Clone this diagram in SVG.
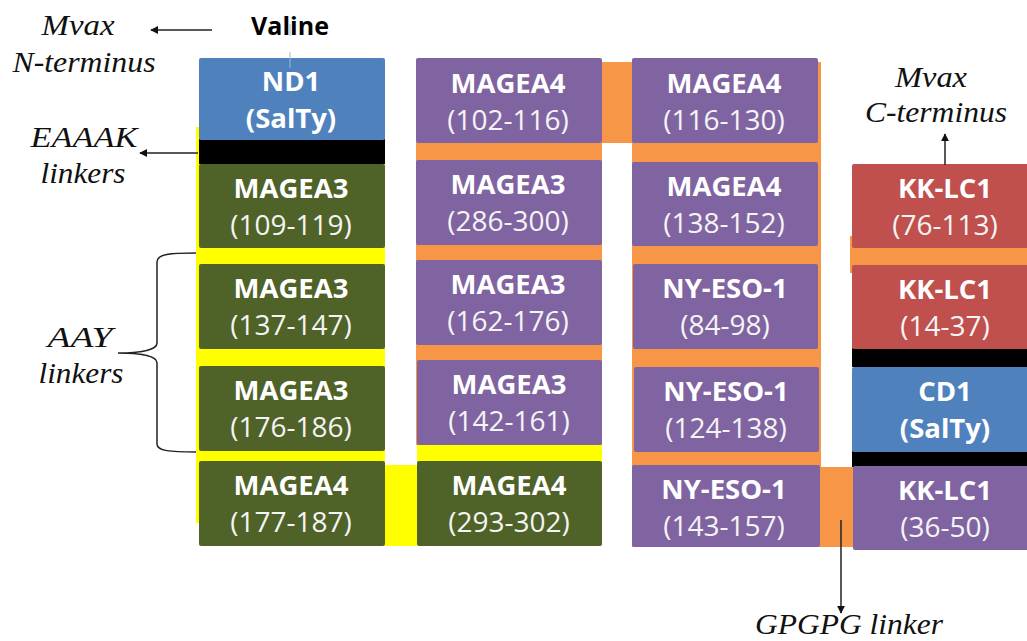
<svg xmlns="http://www.w3.org/2000/svg" width="1027" height="641" viewBox="0 0 1027 641">
<defs>
<style>
.nm{font-family:"Open Sans","Liberation Sans",sans-serif;font-weight:bold;font-size:27.5px;fill:#fff;text-anchor:middle}
.nr{font-family:"Open Sans","Liberation Sans",sans-serif;font-size:28px;fill:#f4f4f4;text-anchor:middle}
.it{font-family:"Liberation Serif",serif;font-style:italic;font-size:30px;fill:#111;text-anchor:middle}
.ln{stroke:#222;stroke-width:1.5;fill:none}
.blue{fill:#4f81bd}.green{fill:#4f6228}.purple{fill:#8064a2}.red{fill:#c0504d}
.org{fill:#f79646}.yel{fill:#ffff00}.blk{fill:#000}
</style>
<marker id="ah" viewBox="0 0 10 10" refX="9" refY="5" markerWidth="8" markerHeight="8" markerUnits="userSpaceOnUse" orient="auto">
<path d="M0,0 L10,5 L0,10 z" fill="#111"/>
</marker>
</defs>
<rect width="1027" height="641" fill="#fff"/>
<g id="linkers">
<rect class="yel" x="196" y="127" width="189" height="396"/>
<rect class="yel" x="385" y="465" width="32" height="81"/>
<rect class="yel" x="417" y="444" width="185" height="18"/>
<rect class="org" x="416" y="142" width="186" height="303"/>
<rect class="org" x="602" y="62" width="32" height="81"/>
<rect class="org" x="632" y="62" width="189" height="485"/>
<rect class="org" x="820" y="467" width="33" height="80"/>
<rect class="org" x="850" y="236" width="177" height="37"/>
<rect class="blk" x="199" y="139" width="186" height="25"/>
<rect class="blk" x="852" y="348" width="175" height="19"/>
<rect class="blk" x="852" y="451" width="175" height="16"/>
</g>
<g id="nd1"><rect class="blue" x="199" y="58" width="186" height="82" rx="2"/><text class="nm" x="291" y="91">ND1</text><text class="nm" x="291" y="128">(SalTy)</text></g>
<g id="magea3_109"><rect class="green" x="199" y="164" width="186" height="84" rx="2"/><text class="nm" x="291" y="198">MAGEA3</text><text class="nr" x="291" y="235">(109-119)</text></g>
<g id="magea3_137"><rect class="green" x="199" y="264" width="186" height="85" rx="2"/><text class="nm" x="291" y="298">MAGEA3</text><text class="nr" x="291" y="335">(137-147)</text></g>
<g id="magea3_176"><rect class="green" x="199" y="366" width="186" height="85" rx="2"/><text class="nm" x="291" y="400">MAGEA3</text><text class="nr" x="291" y="437">(176-186)</text></g>
<g id="magea4_177"><rect class="green" x="199" y="461" width="186" height="85" rx="2"/><text class="nm" x="291" y="495">MAGEA4</text><text class="nr" x="291" y="532">(177-187)</text></g>
<g id="magea4_102"><rect class="purple" x="416" y="58" width="186" height="85" rx="2"/><text class="nm" x="508" y="93">MAGEA4</text><text class="nr" x="508" y="130">(102-116)</text></g>
<g id="magea3_286"><rect class="purple" x="416" y="160" width="186" height="85" rx="2"/><text class="nm" x="508" y="194">MAGEA3</text><text class="nr" x="508" y="231">(286-300)</text></g>
<g id="magea3_162"><rect class="purple" x="416" y="260" width="186" height="85" rx="2"/><text class="nm" x="508" y="294">MAGEA3</text><text class="nr" x="508" y="331">(162-176)</text></g>
<g id="magea3_142"><rect class="purple" x="417" y="360" width="185" height="85" rx="2"/><text class="nm" x="509" y="394">MAGEA3</text><text class="nr" x="509" y="431">(142-161)</text></g>
<g id="magea4_293"><rect class="green" x="417" y="461" width="185" height="85" rx="2"/><text class="nm" x="509" y="495">MAGEA4</text><text class="nr" x="509" y="532">(293-302)</text></g>
<g id="magea4_116"><rect class="purple" x="632" y="58" width="186" height="85" rx="2"/><text class="nm" x="724" y="93">MAGEA4</text><text class="nr" x="724" y="130">(116-130)</text></g>
<g id="magea4_138"><rect class="purple" x="632" y="162" width="186" height="84" rx="2"/><text class="nm" x="724" y="196">MAGEA4</text><text class="nr" x="724" y="233">(138-152)</text></g>
<g id="nyeso_84"><rect class="purple" x="633" y="264" width="185" height="85" rx="2"/><text class="nm" x="725" y="298">NY-ESO-1</text><text class="nr" x="725" y="335">(84-98)</text></g>
<g id="nyeso_124"><rect class="purple" x="634" y="367" width="185" height="85" rx="2"/><text class="nm" x="726" y="401">NY-ESO-1</text><text class="nr" x="726" y="438">(124-138)</text></g>
<g id="nyeso_143"><rect class="purple" x="632" y="465" width="188" height="82" rx="2"/><text class="nm" x="724" y="499">NY-ESO-1</text><text class="nr" x="724" y="536">(143-157)</text></g>
<g id="kklc1_76"><rect class="red" x="852" y="164" width="180" height="84" rx="2"/><text class="nm" x="945" y="198">KK-LC1</text><text class="nr" x="945" y="235">(76-113)</text></g>
<g id="kklc1_14"><rect class="red" x="852" y="265" width="180" height="84" rx="2"/><text class="nm" x="945" y="299">KK-LC1</text><text class="nr" x="945" y="336">(14-37)</text></g>
<g id="cd1"><rect class="blue" x="852" y="367" width="180" height="85" rx="2"/><text class="nm" x="945" y="401">CD1</text><text class="nm" x="945" y="438">(SalTy)</text></g>
<g id="kklc1_36"><rect class="purple" x="853" y="466" width="180" height="84" rx="2"/><text class="nm" x="945" y="500">KK-LC1</text><text class="nr" x="945" y="537">(36-50)</text></g>
<g id="labels">
<text x="290" y="35" font-family="'Open Sans','Liberation Sans',sans-serif" font-weight="bold" font-size="25" fill="#000" text-anchor="middle">Valine</text>
<text class="it" x="78" y="35" textLength="73" lengthAdjust="spacingAndGlyphs">Mvax</text>
<text class="it" x="84" y="72" textLength="143" lengthAdjust="spacingAndGlyphs">N-terminus</text>
<text class="it" x="84" y="147" textLength="107" lengthAdjust="spacingAndGlyphs">EAAAK</text>
<text class="it" x="83" y="183" textLength="85" lengthAdjust="spacingAndGlyphs">linkers</text>
<text class="it" x="80" y="347" textLength="65" lengthAdjust="spacingAndGlyphs">AAY</text>
<text class="it" x="81" y="383" textLength="85" lengthAdjust="spacingAndGlyphs">linkers</text>
<text class="it" x="931" y="87" textLength="72" lengthAdjust="spacingAndGlyphs">Mvax</text>
<text class="it" x="936" y="122" textLength="142" lengthAdjust="spacingAndGlyphs">C-terminus</text>
<text class="it" x="849" y="634" textLength="188" lengthAdjust="spacingAndGlyphs">GPGPG linker</text>
</g>
<g id="connectors">
<line x1="290" y1="24" x2="290" y2="36" stroke="#9fb4d6" stroke-width="1"/>
<line x1="290" y1="52" x2="290" y2="68" stroke="#9fb4d6" stroke-width="1"/>
<line class="ln" x1="212" y1="30" x2="151" y2="30" marker-end="url(#ah)"/>
<line class="ln" x1="198" y1="153" x2="140" y2="153" marker-end="url(#ah)"/>
<line class="ln" x1="945" y1="165" x2="945" y2="134" marker-end="url(#ah)"/>
<line class="ln" x1="841" y1="520" x2="841" y2="613" marker-end="url(#ah)"/>
<path class="ln" d="M196,253 C170,253 157,254 157,262 L157,343 C157,350 140,353 118,353 C140,353 157,356 157,363 L157,444 C157,451 170,452 196,452"/>
</g>
</svg>
